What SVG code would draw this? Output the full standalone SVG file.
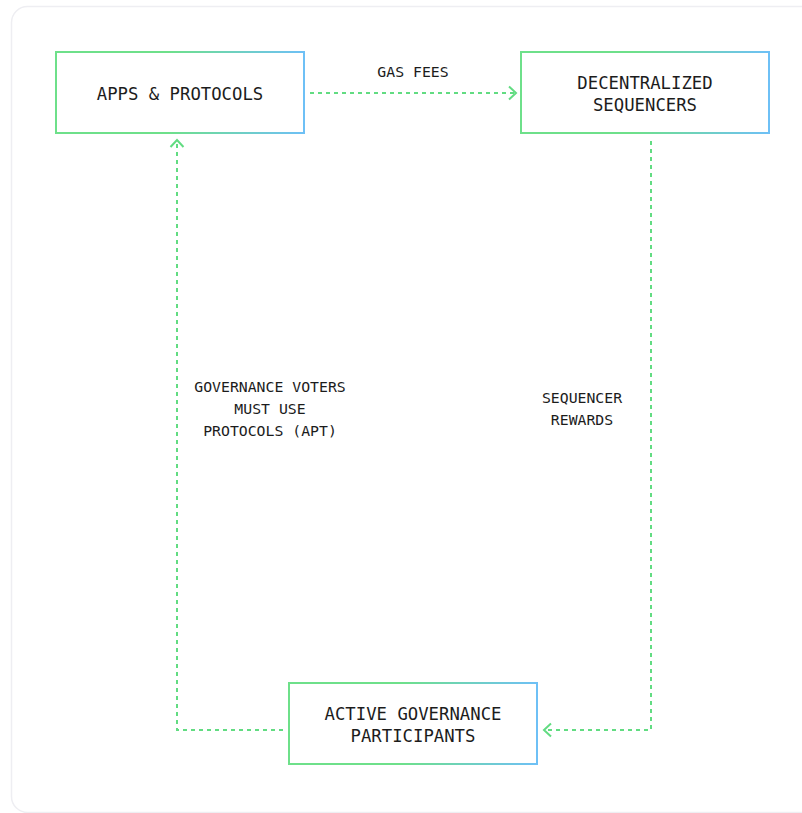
<svg xmlns="http://www.w3.org/2000/svg" width="802" height="813" viewBox="0 0 802 813">
<defs>
<linearGradient id="g" x1="0" y1="0" x2="1" y2="0">
<stop offset="0" stop-color="#6ee08a"/>
<stop offset="0.45" stop-color="#6ee08a"/>
<stop offset="1" stop-color="#6ec0f6"/>
</linearGradient>
<marker id="arr" viewBox="0 0 12 16" refX="10" refY="8" markerWidth="12" markerHeight="16" markerUnits="userSpaceOnUse" orient="auto">
<path d="M3,1.5 L10,8 L3,14.5" fill="none" stroke="#62dc82" stroke-width="2"/>
</marker>
<style>
.box{fill:#fff;stroke:url(#g);stroke-width:2}
.nt{font-family:"DejaVu Sans Mono","Liberation Mono",monospace;font-size:17.3px;fill:#1c1c1c;text-anchor:middle}
.lt{font-family:"DejaVu Sans Mono","Liberation Mono",monospace;font-size:14.8px;fill:#1c1c1c;text-anchor:middle}
.c{fill:none;stroke:#62dc82;stroke-width:2;stroke-dasharray:4 4}
</style>
</defs>
<rect x="0" y="0" width="802" height="813" fill="#fff"/>
<rect x="11.5" y="6.5" width="820" height="806" rx="16" fill="#fff" stroke="#eeeef2" stroke-width="1.5"/>
<g id="connectors">
<path class="c" d="M310,93 H516" marker-end="url(#arr)"/>
<path class="c" d="M651,141 V730 H544" marker-end="url(#arr)"/>
<path class="c" d="M283,730 H177 V140" marker-end="url(#arr)"/>
<text class="lt" x="413" y="77">GAS FEES</text>
<text class="lt" x="582" y="403">SEQUENCER</text>
<text class="lt" x="582" y="425">REWARDS</text>
<text class="lt" x="270" y="392">GOVERNANCE VOTERS</text>
<text class="lt" x="270" y="414">MUST USE</text>
<text class="lt" x="270" y="436">PROTOCOLS (APT)</text>
</g>
<g id="apps">
<rect class="box" x="56" y="52" width="248" height="81"/>
<text class="nt" x="180" y="100">APPS &amp; PROTOCOLS</text>
</g>
<g id="sequencers">
<rect class="box" x="521" y="52" width="248" height="81"/>
<text class="nt" x="645" y="89">DECENTRALIZED</text>
<text class="nt" x="645" y="111">SEQUENCERS</text>
</g>
<g id="governance">
<rect class="box" x="289" y="683" width="248" height="81"/>
<text class="nt" x="413" y="720">ACTIVE GOVERNANCE</text>
<text class="nt" x="413" y="742">PARTICIPANTS</text>
</g>
</svg>
